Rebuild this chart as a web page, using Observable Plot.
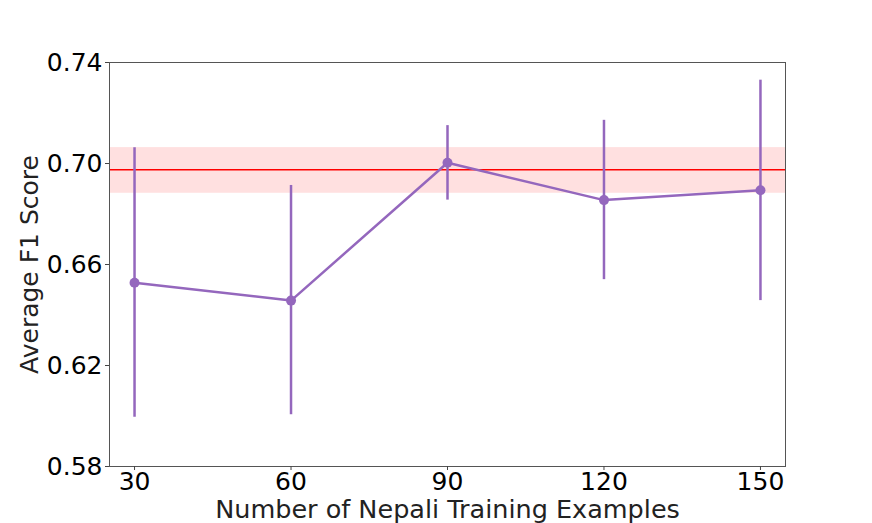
<!DOCTYPE html>
<html>
<head>
<meta charset="utf-8">
<script src="https://cdn.jsdelivr.net/npm/d3@7"></script>
<script src="https://cdn.jsdelivr.net/npm/@observablehq/plot@0.6"></script>
<style>
  html, body { margin: 0; padding: 0; background: #fff; }
  svg { font-family: "DejaVu Sans", sans-serif; }
</style>
</head>
<body>
<div id="chart"></div>
<script>
const examples = [30, 60, 90, 120, 150];
const meanF1 = [0.6528, 0.6457, 0.7003, 0.6855, 0.6894];
const lowerF1 = [0.5995, 0.6005, 0.6855, 0.6540, 0.6457];
const upperF1 = [0.7062, 0.6913, 0.7150, 0.7171, 0.7330];
const baselineMean = 0.6975;
const baselineLow = 0.6882;
const baselineHigh = 0.7063;
const yTicks = [0.58, 0.62, 0.66, 0.70, 0.74];
const xTicks = [30, 60, 90, 120, 150];
const xLabel = "Number of Nepali Training Examples";
const yLabel = "Average F1 Score";

const data = examples.map((x, i) => ({x, y: meanF1[i], lo: lowerF1[i], hi: upperF1[i]}));
const purple = "#9467bd";

const chart = Plot.plot({
  width: 872,
  height: 523,
  marginLeft: 109,
  marginRight: 87,
  marginTop: 62,
  marginBottom: 57,
  style: {fontFamily: "DejaVu Sans, sans-serif", background: "#fff"},
  x: {domain: [25.2, 154.8]},
  y: {domain: [0.58, 0.74]},
  marks: [
    Plot.rect([{lo: baselineLow, hi: baselineHigh}], {x1: 25.2, x2: 154.8, y1: "lo", y2: "hi", fill: "red", fillOpacity: 0.12}),
    Plot.ruleY([baselineMean], {stroke: "red", strokeWidth: 1.5}),
    Plot.ruleX(data, {x: "x", y1: "lo", y2: "hi", stroke: purple, strokeWidth: 2.5}),
    Plot.line(data, {x: "x", y: "y", stroke: purple, strokeWidth: 2.5}),
    Plot.dot(data, {x: "x", y: "y", fill: purple, r: 5}),
    Plot.frame({stroke: "#555", strokeWidth: 1}),
    Plot.axisX({ticks: xTicks, tickFormat: d3.format("d"), label: null, fontSize: 25, tickSize: 4, tickPadding: 2, stroke: "#444", color: "#000"}),
    Plot.axisY({ticks: yTicks, tickFormat: d3.format(".2f"), label: null, fontSize: 25, tickSize: 4, tickPadding: 3, stroke: "#444", color: "#000"}),
    Plot.text([xLabel], {frameAnchor: "bottom", dy: 51, fontSize: 25.5, fill: "#222"}),
    Plot.text([yLabel], {frameAnchor: "left", textAnchor: "middle", rotate: -90, dx: -80, fontSize: 25, fill: "#222"})
  ]
});
document.getElementById("chart").appendChild(chart);
</script>
</body>
</html>
